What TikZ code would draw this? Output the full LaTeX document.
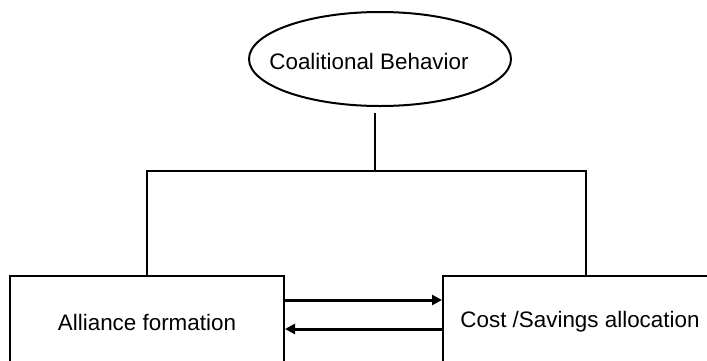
\documentclass[tikz,border=0pt]{standalone}
\usepackage{fontspec}
\setmainfont{Liberation Sans}
\usetikzlibrary{shapes.geometric,arrows.meta}
\begin{document}
\begin{tikzpicture}[x=0.5pt, y=-0.5pt, font=\fontsize{11.2}{13.4}\selectfont,
  box/.style={shape=rectangle, draw=black, line width=1pt, minimum width=137pt, minimum height=46pt},
  tree/.style={-, line width=1pt, draw=black},
  flow/.style={-{Triangle[length=5pt,width=5pt]}, line width=1.5pt, draw=black}]
\useasboundingbox (0,0) rectangle (707,360);
\clip (0,0) rectangle (707,360);
\node[shape=ellipse, draw=black, line width=1pt, minimum width=131pt, minimum height=47pt] (coalition) at (380,59) {};
\node (behavior) at (369,61) {Coalitional Behavior};
\node[box] (alliance) at (147,322) {Alliance formation};
\node[box] (cost) at (580,322) {Cost /Savings allocation};
\coordinate (split) at (375,171);
\draw[tree] ([xshift=-2.5pt,yshift=-3pt]coalition.south) -- (split);
\draw[tree] (alliance.north) |- (split) -| ([xshift=3pt]cost.north);
\draw[flow] ([yshift=11pt]alliance.east) -- ([yshift=11pt]cost.west);
\draw[flow] ([yshift=-3.5pt]cost.west) -- ([yshift=-3.5pt]alliance.east);
\end{tikzpicture}
\end{document}
